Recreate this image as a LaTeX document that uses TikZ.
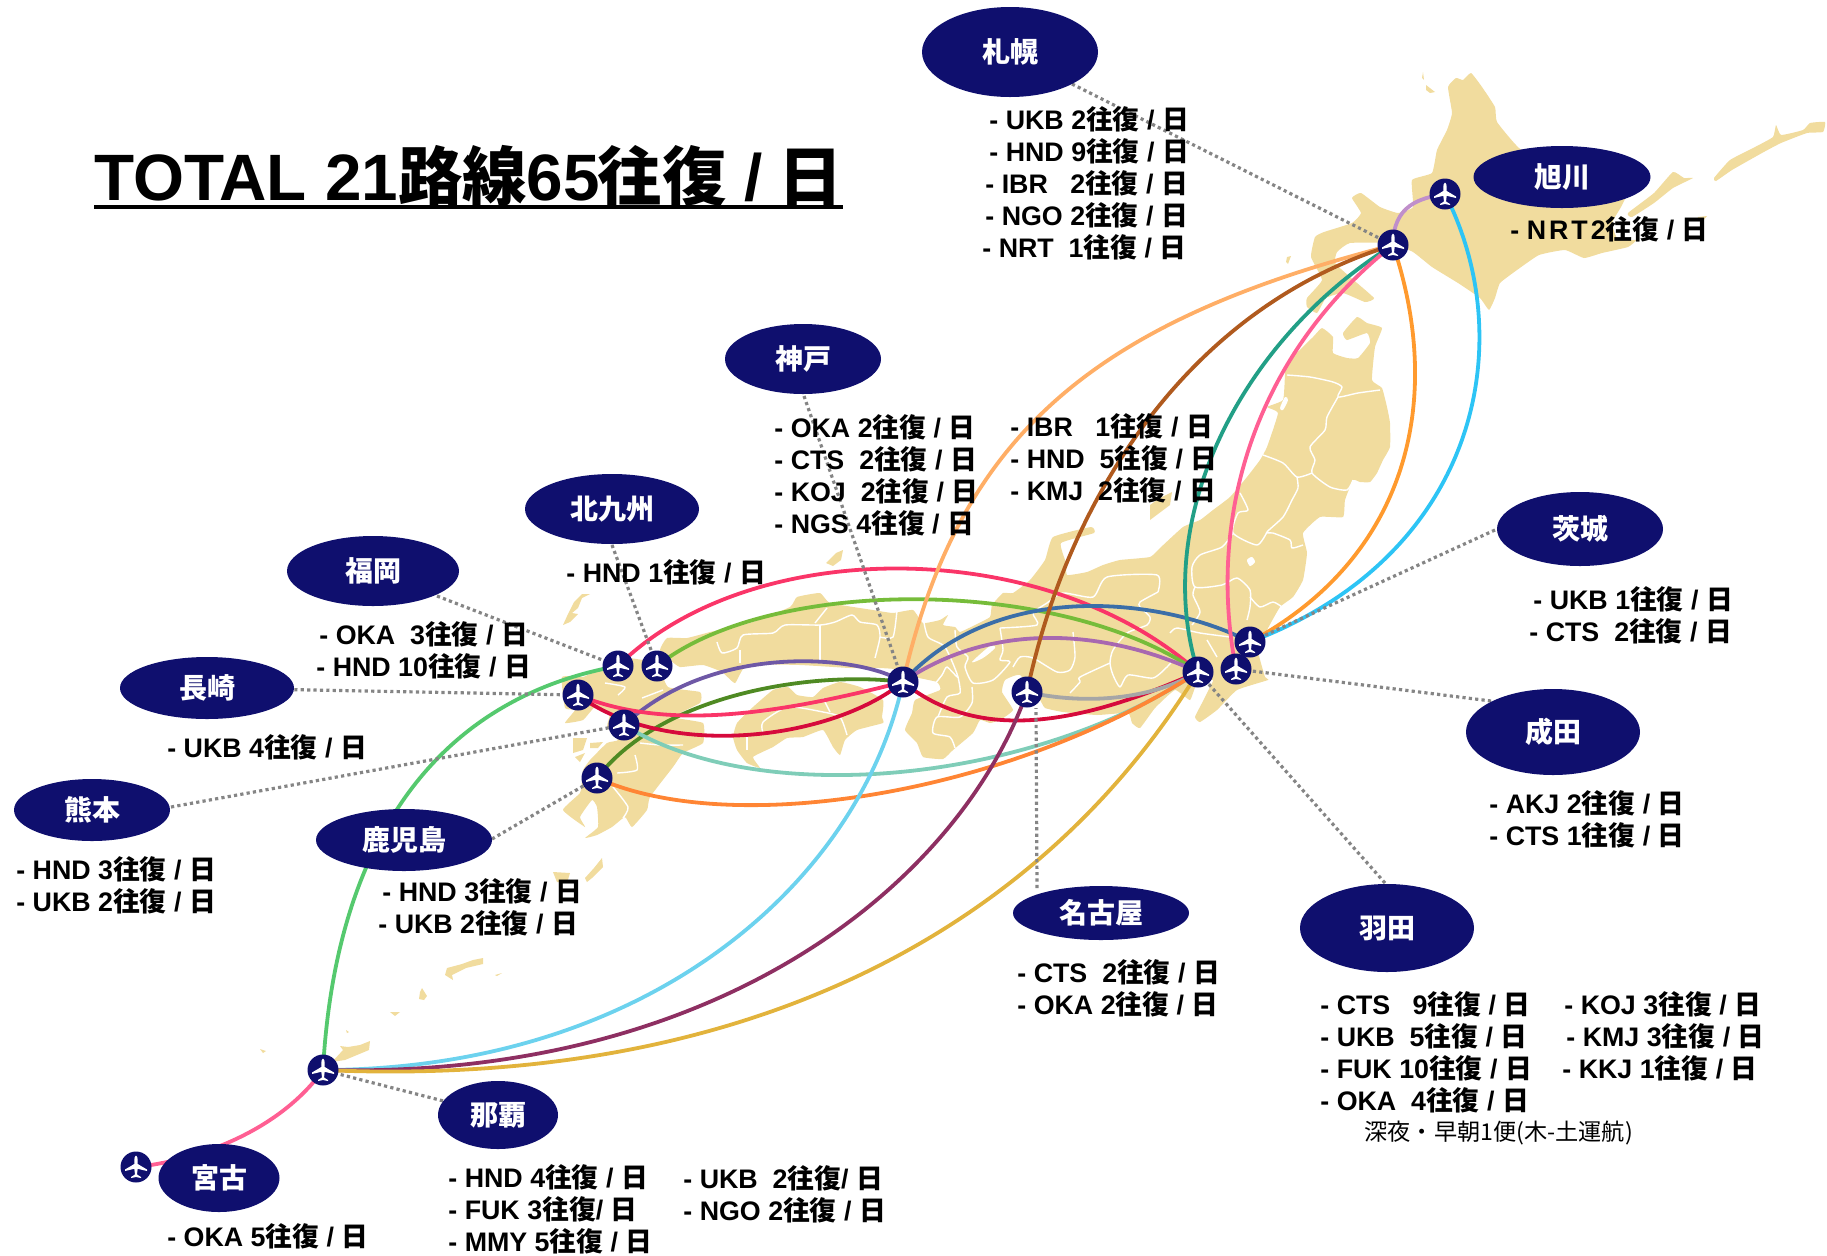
\documentclass[tikz,border=0pt]{standalone}
\usepackage{fontspec}
\usetikzlibrary{shapes.geometric}
\setmainfont{Liberation Sans}
\newfontfamily\cjk{Noto Sans CJK JP}
\newcommand\fq[1]{#1{\cjk 往復} / {\cjk 日}}
\definecolor{navy}{HTML}{0F0F6E}
\definecolor{landc}{HTML}{F1DC9E}
\definecolor{leadc}{HTML}{858585}
\definecolor{rPink}{HTML}{FA3568}
\definecolor{rGreen}{HTML}{76BC3A}
\definecolor{rBlue}{HTML}{3B6EA8}
\definecolor{rViolet}{HTML}{A868B0}
\definecolor{rPeach}{HTML}{FFAE66}
\definecolor{rBrown}{HTML}{B05A1E}
\definecolor{rTeal}{HTML}{229F86}
\definecolor{rRose}{HTML}{FF5F93}
\definecolor{rOrange}{HTML}{FF9A2E}
\definecolor{rCyan}{HTML}{2DC4F5}
\definecolor{rLilac}{HTML}{C08FCB}
\definecolor{rIndigo}{HTML}{6E58A6}
\definecolor{rOlive}{HTML}{4F8A23}
\definecolor{rCrimson}{HTML}{D60A3C}
\definecolor{rGray}{HTML}{A6A6A6}
\definecolor{rMint}{HTML}{7FCDB8}
\definecolor{rCoral}{HTML}{FF8534}
\definecolor{rSky}{HTML}{6CD2EE}
\definecolor{rMaroon}{HTML}{8E2F62}
\definecolor{rGold}{HTML}{E2B33C}
\definecolor{rLime}{HTML}{55C96E}
\pgfdeclarelayer{maplayer}
\pgfdeclarelayer{routelayer}
\pgfsetlayers{maplayer,routelayer,main}
\tikzset{
  city/.style={ellipse,fill=navy,inner sep=0pt,text=white,font=\fontsize{14}{16}\selectfont\bfseries\cjk},
  apt/.style={circle,fill=navy,inner sep=0pt,minimum size=15.5pt},
  lab/.style={anchor=north west,align=left,inner sep=0pt,font=\fontsize{13.4}{16}\selectfont\bfseries},
  route/.style={line width=1.9pt,line cap=round},
  leader/.style={leadc,line width=1.6pt,dash pattern=on 1.6pt off 1.6pt},
  pref/.style={white,line width=0.7pt,line join=round},
  land/.style={fill=landc},
}
\newcommand\airport[3]{%
  \node[apt] (#1) at (#2,#3) {};
  \fill[white,shift={(#1.center)}] (0,-11.5) .. controls (1.2,-11) and (1.7,-9) .. (1.7,-7) -- (1.7,-3)
    -- (11,2.5) -- (11,4) -- (1.7,1.8) -- (1,7.5) -- (5,10) -- (5,11) -- (0,10) -- (-5,11) -- (-5,10) -- (-1,7.5)
    -- (-1.7,1.8) -- (-11,4) -- (-11,2.5) -- (-1.7,-3) -- (-1.7,-7) .. controls (-1.7,-9) and (-1.2,-11) .. (0,-11.5) -- cycle;}
\newcommand\citynode[6]{\node[city,minimum width=#4pt,minimum height=#5pt] (#1) at (#2,#3) {#6};}
\newcommand\lbl[4]{\node[lab] (#1) at (#2,#3-13.5) {#4};}
\begin{document}
\begin{tikzpicture}[x=0.5pt,y=-0.5pt]
\path[use as bounding box] (0,0) rectangle (1827,1255);
% ---------- map
\begin{pgfonlayer}{maplayer}
\fill[land] plot[smooth cycle,tension=0.25] coordinates {(1471,73)(1482,87)(1495,107)(1497,122)(1519,148)(1560,175)(1600,190)(1628,190)(1621,207)(1612,223)(1618,240)(1636,240)(1628,247)(1602,253)(1584,258)(1565,250)(1539,255)(1517,270)(1500,283)(1495,298)(1489,310)(1480,298)(1458,283)(1432,267)(1413,252)(1390,243)(1350,243)(1337,252)(1335,263)(1350,277)(1374,298)(1365,302)(1343,293)(1326,298)(1317,313)(1307,307)(1307,298)(1322,280)(1311,257)(1315,237)(1324,232)(1352,223)(1361,213)(1352,198)(1361,193)(1380,207)(1398,213)(1413,207)(1412,180)(1432,173)(1437,150)(1447,130)(1452,113)(1448,87)(1456,78)(1463,80)};
\fill[land] plot coordinates {(1426,85)(1435,92)(1430,93)(1426,90)} -- cycle;
\fill[land] plot coordinates {(1423,72)(1424,80)(1422,78)} -- cycle;
\fill[land] plot coordinates {(1287,257)(1291,256)(1288,264)(1286,262)} -- cycle;
\fill[land] plot[smooth cycle,tension=0.25] coordinates {(1714,178)(1730,160)(1755,147)(1773,137)(1776,125)(1781,135)(1803,130)(1810,123)(1825,122)(1823,132)(1807,133)(1781,143)(1762,153)(1732,170)(1716,181)};
\fill[land] plot[smooth cycle,tension=0.25] coordinates {(1628,213)(1654,193)(1673,172)(1684,178)(1693,178)(1673,188)(1654,203)(1632,217)};
\fill[land] plot coordinates {(1698,217)(1707,216)(1702,222)(1697,220)} -- cycle;
% Honshu
\fill[land] plot[smooth cycle,tension=0.25] coordinates {(1322,328)(1333,337)(1333,353)(1347,358)(1358,358)(1370,343)(1367,333)(1347,340)(1343,333)(1357,317)(1367,323)(1382,328)(1375,347)(1372,380)(1382,388)(1387,407)(1390,423)(1390,447)(1383,460)(1377,473)(1370,482)(1360,482)(1353,480)(1345,500)(1343,517)(1320,517)(1303,533)(1307,553)(1303,580)(1293,597)(1280,607)(1267,630)(1258,650)(1265,677)(1268,680)(1237,690)(1217,710)(1200,722)(1195,717)(1202,703)(1210,687)(1213,680)(1197,683)(1190,700)(1175,690)(1155,708)(1140,728)(1132,723)(1128,713)(1097,715)(1063,712)(1045,708)(1040,700)(1020,675)(1005,680)(1002,692)(1013,710)(1000,720)(990,723)(980,720)(973,733)(953,750)(943,759)(923,757)(917,743)(905,730)(912,713)(915,700)(940,690)(937,682)(915,677)(905,670)(880,668)(850,668)(800,665)(747,665)(735,683)(722,672)(703,665)(680,667)(670,660)(660,650)(667,638)(687,638)(710,632)(720,630)(753,622)(790,607)(797,597)(820,593)(830,603)(873,610)(893,613)(913,610)(923,623)(940,620)(948,615)(943,625)(955,627)(960,632)(975,625)(990,617)(992,605)(1003,593)(1013,593)(1030,580)(1045,560)(1053,537)(1091,527)(1094,533)(1061,543)(1066,563)(1067,575)(1087,572)(1103,565)(1120,560)(1150,557)(1160,548)(1183,527)(1200,520)(1213,510)(1230,497)(1247,477)(1260,460)(1267,447)(1278,413)(1267,407)(1283,400)(1285,375)(1287,363)(1313,337)};
% Shikoku
\fill[land] plot[smooth cycle,tension=0.25] coordinates {(737,723)(753,707)(773,690)(788,687)(797,695)(813,697)(823,688)(840,682)(860,687)(883,700)(882,717)(883,723)(857,730)(845,740)(840,755)(833,747)(823,730)(803,737)(787,738)(773,747)(753,757)(760,768)(747,763)(737,750)(733,737)};
% Kyushu
\fill[land] plot[smooth cycle,tension=0.25] coordinates {(603,667)(618,657)(643,660)(657,663)(668,687)(700,692)(700,703)(673,717)(703,723)(703,743)(683,753)(673,767)(650,797)(647,810)(632,827)(625,817)(612,827)(597,835)(585,838)(598,827)(597,807)(592,800)(580,817)(585,827)(563,810)(580,793)(582,780)(583,770)(590,760)(607,743)(618,740)(607,727)(610,713)(595,707)(583,720)(565,723)(575,710)(565,708)(562,677)(583,677)};
\fill[land] plot coordinates {(573,738)(587,738)(583,750)(573,753)} -- cycle;
\fill[land] plot coordinates {(590,743)(603,742)(598,748)(590,748)} -- cycle;
\fill[land] plot coordinates {(575,757)(585,753)(580,762)} -- cycle;
\fill[land] plot coordinates {(590,594)(582,598)(578,608)(572,613)(578,614)(570,622)(563,625)(568,614)(574,602)(582,594)} -- cycle;
\fill[land] plot coordinates {(602,858)(603,867)(592,878)(587,882)(585,878)(594,868)} -- cycle;
\fill[land] plot coordinates {(553,872)(570,873)(567,883)(557,882)} -- cycle;
\fill[land] plot coordinates {(826,563)(836,553)(843,550)(841,560)(833,566)} -- cycle;
\fill[land] plot coordinates {(1172,492)(1170,505)(1150,520)(1150,505)(1160,498)} -- cycle;
% Nansei
\fill[land] plot coordinates {(483,958)(483,964)(466,968)(452,975)(453,980)(445,975)(447,968)(462,964)(473,960)} -- cycle;
\fill[land] plot coordinates {(495,975)(502,973)(497,976)} -- cycle;
\fill[land] plot coordinates {(422,988)(427,996)(424,1000)(419,999)(420,992)} -- cycle;
\fill[land] plot coordinates {(390,1012)(400,1012)(395,1016)} -- cycle;
\fill[land] plot coordinates {(370,1041)(369,1050)(345,1060)(332,1062)(343,1050)(340,1046)(348,1047)(360,1045)} -- cycle;
\fill[land] plot coordinates {(260,1049)(266,1051)(263,1053)} -- cycle;
\fill[land] plot coordinates {(346,1030)(349,1032)(347,1033)} -- cycle;
% lakes
\fill[white] plot[smooth cycle] coordinates {(972,662)(990,646)(995,648)(983,658)};
\fill[white] plot[smooth cycle] coordinates {(1247,560)(1252,557)(1255,562)(1250,566)};
\fill[white] plot[smooth cycle] coordinates {(1280,408)(1285,397)(1288,400)(1283,410)};
\fill[white] plot[smooth cycle] coordinates {(760,668)(800,666)(830,668)(800,672)};
% prefecture borders
\foreach \pth in {
 {(1287,375)(1310,377)(1333,382)(1342,387)(1338,397)(1358,393)(1380,390)},
 {(1338,397)(1327,417)(1325,430)(1310,447)(1315,460)(1312,473)(1330,487)(1347,490)(1353,480)},
 {(1263,455)(1283,463)(1297,477)(1312,473)},
 {(1297,477)(1298,488)(1292,500)(1283,517)(1267,532)(1273,533)(1290,540)(1292,548)(1303,545)},
 {(1267,532)(1257,545)(1233,533)(1238,513)(1248,510)(1240,493)},
 {(1233,533)(1222,547)(1200,555)(1192,567)(1195,587)(1222,585)(1237,578)(1250,590)(1250,607)(1247,620)},
 {(1250,597)(1260,607)(1273,602)(1282,607)},
 {(1195,587)(1193,595)(1200,612)(1192,625)},
 {(1170,633)(1177,628)(1200,633)(1230,637)},
 {(1207,640)(1217,657)},
 {(1158,592)(1157,575)(1107,577)(1093,597)(1063,593)(1047,603)(1033,613)(1037,625)(1000,628)},
 {(1158,592)(1140,602)(1140,607)(1150,617)(1147,625)(1127,633)(1113,650)(1110,663)(1113,675)(1120,687)(1128,675)(1153,678)(1167,667)(1173,660)},
 {(1073,632)(1075,657)(1070,670)(1057,672)(1033,658)(1020,657)(1013,667)},
 {(1110,663)(1080,677)(1080,682)(1070,693)},
 {(1000,628)(1003,650)(1000,660)(1010,662)(993,680)(973,683)(965,667)(968,657)(957,647)(955,630)},
 {(923,617)(928,637)(945,647)(958,677)(947,667)(942,675)(930,690)},
 {(972,687)(972,703)(960,717)(937,717)(933,733)(950,737)(955,748)},
 {(958,677)(960,693)(947,697)(938,717)},
 {(717,642)(722,653)(737,648)(743,635)(773,633)(785,625)(820,625)(835,622)(852,615)(860,622)(877,625)(880,637)(875,658)},
 {(897,610)(893,637)(880,637)},
 {(740,650)(740,663)},
 {(820,625)(820,660)},
 {(815,623)(827,608)},
 {(747,737)(747,750)},
 {(763,733)(763,722)(788,707)(823,712)(840,717)(847,735)},
 {(823,698)(830,712)},
 {(642,698)(663,690)},
 {(605,683)(625,687)(618,695)},
 {(640,743)(660,745)(683,745)},
 {(635,755)(637,770)(617,773)},
 {(613,787)(628,807)(623,818)}}
 {\draw[pref] plot[smooth,tension=0.4] coordinates \pth;}
\end{pgfonlayer}
% ---------- airports
\airport{cts}{1393}{245}
\airport{akj}{1445}{194}
\airport{ibr}{1250}{642}
\airport{nrt}{1236}{669}
\airport{hnd}{1198}{672}
\airport{ngo}{1027}{692}
\airport{ukb}{903}{682}
\airport{fuk}{618}{666}
\airport{kkj}{657}{666}
\airport{ngs}{578}{695}
\airport{kmj}{624}{725}
\airport{koj}{597}{778}
\airport{oka}{323}{1070}
\airport{mmy}{136}{1167}
% ---------- city ellipses
\citynode{sapporo}{1010}{52}{88}{45}{札幌}
\citynode{asahikawa}{1562}{177}{88.5}{31}{旭川}
\citynode{kobe}{803}{359}{78}{35}{神戸}
\citynode{kitakyushu}{612}{509}{87}{35}{北九州}
\citynode{fukuoka}{373}{571}{86}{35}{福岡}
\citynode{nagasaki}{207}{688}{87}{31}{長崎}
\citynode{kumamoto}{92}{810}{78}{31}{熊本}
\citynode{kagoshima}{404}{840}{88}{31}{鹿児島}
\citynode{ibaraki}{1580}{529}{83}{37}{茨城}
\citynode{narita}{1553}{732}{87}{43}{成田}
\citynode{nagoya}{1101}{913}{88}{27}{名古屋}
\citynode{haneda}{1387}{928}{87}{44}{羽田}
\citynode{naha}{498}{1115}{60}{34}{那覇}
\citynode{miyako}{219}{1178}{60.5}{34}{宮古}
% ---------- title
\node[anchor=base west,inner sep=0pt,font=\fontsize{32.8}{36}\selectfont\bfseries] (title) at (94,200) {TOTAL 21{\cjk\fontsize{32.2}{36}\selectfont 路線}65\hspace{-1pt}{\cjk\fontsize{32.2}{36}\selectfont 往復} / \hspace{-1.5pt}{\cjk\fontsize{32.2}{36}\selectfont 日}};
\draw[line width=2pt] ([yshift=-3.5pt]title.base west) -- ([yshift=-3.5pt]title.base east);
% ---------- labels
\lbl{tSap}{989}{120}{\fq{- UKB 2}\\\fq{- HND 9}\\\hspace*{-2pt}\fq{- IBR\ \ \ 2}\\\hspace*{-2pt}\fq{- NGO 2}\\\hspace*{-3.5pt}\fq{- NRT\ \ 1}}
\lbl{tAsa}{1510}{230}{- N\hspace{1.5pt}R\hspace{1.5pt}T\hspace{1.5pt}2{\cjk 往復} / {\cjk 日}}
\lbl{tKobL}{774}{428}{\fq{- OKA 2}\\\fq{- CTS\ \ 2}\\\fq{- KOJ\ \ 2}\\\fq{- NGS 4}}
\lbl{tKobR}{1010}{427}{\fq{- IBR\ \ \ 1}\\\fq{- HND\ \ 5}\\\fq{- KMJ\ \ 2}}
\lbl{tKit}{566}{573}{\fq{- HND 1}}
\lbl{tFuk}{319}{635}{\fq{- OKA\ \ 3}\\\hspace*{-1.5pt}\fq{- HND 10}}
\lbl{tNag}{167}{748}{\fq{- UKB 4}}
\lbl{tKum}{16}{870}{\fq{- HND 3}\\\fq{- UKB 2}}
\lbl{tKag}{382}{892}{\fq{- HND 3}\\\hspace*{-2pt}\fq{- UKB 2}}
\lbl{tIba}{1533}{600}{\fq{- UKB 1}\\\hspace*{-2pt}\fq{- CTS\ \ 2}}
\lbl{tNar}{1489}{804}{\fq{- AKJ 2}\\\fq{- CTS 1}}
\lbl{tNgo}{1017}{973}{\fq{- CTS\ \ 2}\\\fq{- OKA 2}}
\lbl{tHanL}{1320}{1005}{\fq{- CTS\ \ \ 9}\\\fq{- UKB\ \ 5}\\\fq{- FUK 10}\\\fq{- OKA\ \ 4}}
\lbl{tHanR}{1564}{1005}{\fq{- KOJ 3}\\\hspace*{1pt}\fq{- KMJ 3}\\\hspace*{-1pt}\fq{- KKJ 1}}
\node[anchor=west,inner sep=0pt,font=\fontsize{11.6}{14}\selectfont\cjk] (tNote) at (1364,1133) {深夜・早朝1便(木-土運航)};
\lbl{tNahL}{448}{1178}{\fq{- HND 4}\\- FUK 3{\cjk 往復}/ {\cjk 日}\\- MMY 5{\cjk 往復} / {\cjk 日}}
\lbl{tNahR}{683}{1179}{- UKB\ \ 2{\cjk 往復}/ {\cjk 日}\\\fq{- NGO 2}}
\lbl{tMiy}{167}{1237}{\fq{- OKA 5}}
% ---------- leader ends on the ellipses
\coordinate (eSap) at (1072,84);
\coordinate (eKob) at (804,396);
\coordinate (eKit) at (612,545);
\coordinate (eFuk) at (437,596);
\coordinate (eKum) at (171,807);
\coordinate (eKag) at (492,839);
\coordinate (eIba) at (1495,530);
\coordinate (eNar) at (1491,701);
\coordinate (eNgo) at (1037,888);
\coordinate (eNgoA) at (1036,708);
\coordinate (eHan) at (1385,883);
% ---------- routes
\begin{pgfonlayer}{routelayer}
\draw[route,rPink] (fuk.center) .. controls (750,535) and (1045,535) .. (hnd.center);
\draw[route,rGreen] (kkj.center) .. controls (770,576) and (1060,576) .. (hnd.center);
\draw[route,rBlue] (ukb.center) .. controls (1000,575) and (1170,600) .. (ibr.center);
\draw[route,rViolet] (ukb.center) .. controls (985,625) and (1096,625) .. (hnd.center);
\draw[route,rPeach] (ukb.center) .. controls (960,430) and (1100,320) .. (cts.center);
\draw[route,rBrown] (ngo.center) .. controls (1065,510) and (1180,310) .. (cts.center);
\draw[route,rTeal] (hnd.center) .. controls (1150,520) and (1240,340) .. (cts.center);
\draw[route,rRose] (nrt.center) .. controls (1205,510) and (1260,350) .. (cts.center);
\draw[route,rOrange] (cts.center) .. controls (1445,400) and (1408,557) .. (ibr.center);
\draw[route,rCyan] (akj.center) .. controls (1520,340) and (1480,555) .. (ibr.center);
\draw[route,rLilac] (cts.center) .. controls (1393,205) and (1420,198) .. (akj.center);
\draw[route,rIndigo] (kmj.center) .. controls (715,640) and (864,656) .. (ukb.center);
\draw[route,rOlive] (koj.center) .. controls (665,690) and (822,671) .. (ukb.center);
\draw[route,rPink] (ngs.center) .. controls (670,733) and (785,712) .. (ukb.center);
\draw[route,rCrimson] (ngs.center) .. controls (665,760) and (830,741) .. (ukb.center);
\draw[route,rCrimson] (ukb.center) .. controls (975,740) and (1071,729) .. (hnd.center);
\draw[route,rGray] (ngo.center) .. controls (1085,705) and (1150,700) .. (hnd.center);
\draw[route,rMint] (kmj.center) .. controls (760,810) and (1033,783) .. (hnd.center);
\draw[route,rCoral] (koj.center) .. controls (735,840) and (1014,792) .. (hnd.center);
\draw[route,rSky] (ukb.center) .. controls (860,880) and (652,1069) .. (oka.center);
\draw[route,rMaroon] (ngo.center) .. controls (960,880) and (723,1080) .. (oka.center);
\draw[route,rGold] (hnd.center) .. controls (1040,930) and (747,1089) .. (oka.center);
\draw[route,rLime] (fuk.center) .. controls (430,700) and (335,850) .. (oka.center);
\draw[route,rRose] (oka.center) .. controls (280,1130) and (200,1160) .. (mmy.center);
% leaders
\draw[leader] (eSap) -- (cts.center);
\draw[leader] (eKob) -- (ukb.center);
\draw[leader] (eKit) -- (kkj.center);
\draw[leader] (eFuk) -- (fuk.center);
\draw[leader] (nagasaki) -- (ngs.center);
\draw[leader] (eKum) -- (kmj.center);
\draw[leader] (eKag) -- (koj.center);
\draw[leader] (eIba) -- (ibr.center);
\draw[leader] (eNar) -- (nrt.center);
\draw[leader] (eNgo) -- (eNgoA);
\draw[leader] (eHan) -- (hnd.center);
\draw[leader] (naha) -- (oka.center);
\end{pgfonlayer}
\end{tikzpicture}
\end{document}
